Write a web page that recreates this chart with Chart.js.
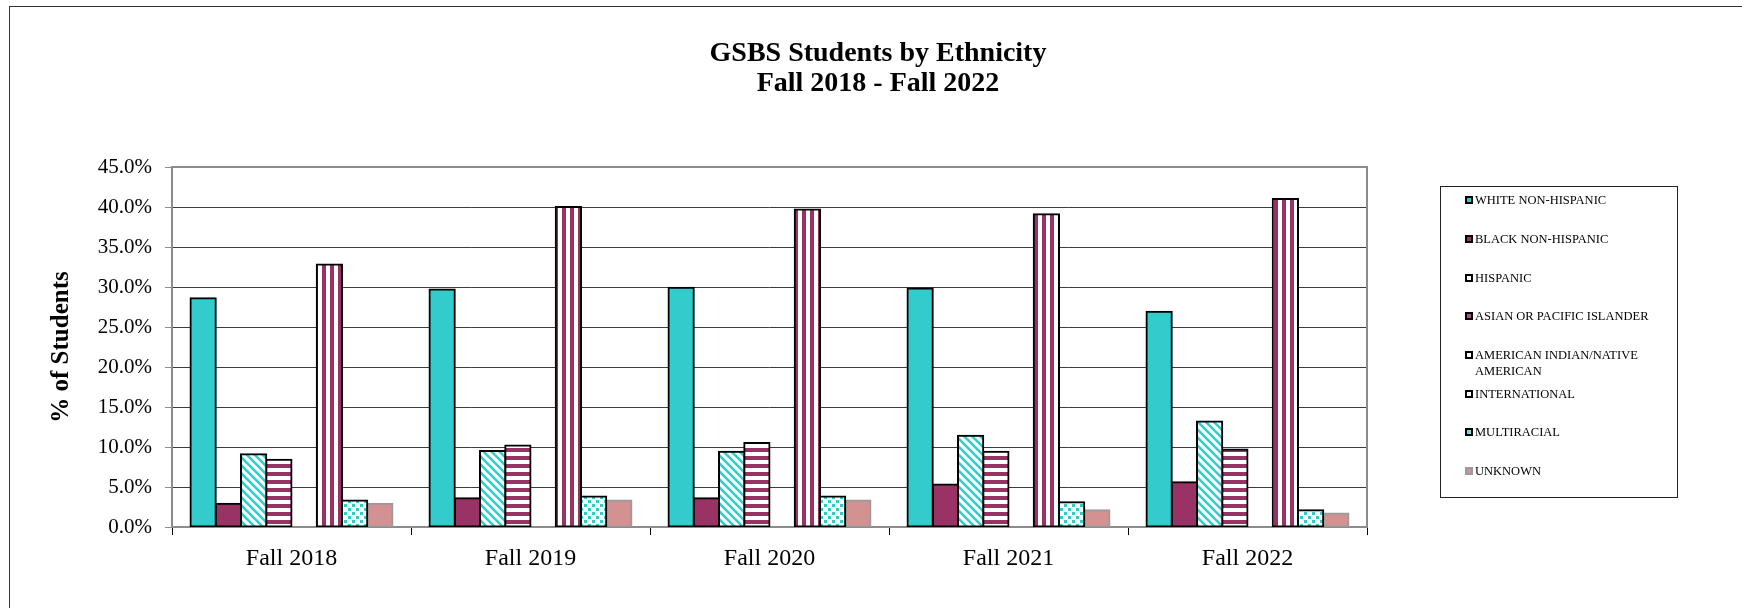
<!DOCTYPE html>
<html lang="en">
<head>
    <meta charset="UTF-8">
    <title>GSBS Students by Ethnicity</title>
    <style>
        body {
            margin: 0;
            background-color: #fff;
            font-family: "Liberation Serif", "Times New Roman", serif;
            color: #000;
        }
        #wrap {
            position: relative;
            width: 1742px;
            height: 608px;
            overflow: hidden;
        }
        #frame {
            position: absolute;
            left: 9px;
            top: 6px;
            width: 1800px;
            height: 700px;
            border-left: 1px solid #333;
            border-top: 1px solid #333;
        }
        canvas {
            position: absolute;
            left: 0;
            top: 0;
        }
        .title {
            position: absolute;
            left: 378px;
            top: 37px;
            width: 1000px;
            text-align: center;
            font-weight: bold;
            font-size: 28px;
            line-height: 30px;
        }
        #legend {
            position: absolute;
            left: 1440px;
            top: 186px;
            width: 236px;
            height: 310px;
            border: 1px solid #222;
        }
        .item {
            position: absolute;
            left: 24px;
            font-size: 12.5px;
            line-height: 16px;
        }
        .swatch {
            position: absolute;
            left: 0;
            top: 4px;
            width: 4px;
            height: 4px;
            border: 2px solid #000;
        }
        .label {
            margin-left: 10px;
            width: 185px;
        }
    </style>
    <script src="https://cdn.jsdelivr.net/npm/chart.js"></script>
</head>
<body>
<div id="wrap">
    <div id="frame"></div>
    <canvas id="chart" width="1742" height="608"></canvas>
    <div class="title">GSBS Students by Ethnicity<br>Fall 2018 - Fall 2022</div>
    <div id="legend"></div>
</div>

<script>
// data (% of students)
const categories = ['Fall 2018', 'Fall 2019', 'Fall 2020', 'Fall 2021', 'Fall 2022'];
const seriesNames = ['WHITE NON-HISPANIC', 'BLACK NON-HISPANIC', 'HISPANIC', 'ASIAN OR PACIFIC ISLANDER',
    'AMERICAN INDIAN/NATIVE AMERICAN', 'INTERNATIONAL', 'MULTIRACIAL', 'UNKNOWN'];
const whiteNonHispanic = [28.6, 29.7, 29.9, 29.8, 26.9];
const blackNonHispanic = [2.9, 3.6, 3.6, 5.3, 5.6];
const hispanic = [9.1, 9.5, 9.4, 11.4, 13.2];
const asianPacific = [8.4, 10.2, 10.5, 9.4, 9.7];
const americanIndian = [0, 0, 0, 0, 0];
const international = [32.8, 40.0, 39.7, 39.1, 41.0];
const multiracial = [3.3, 3.8, 3.8, 3.1, 2.1];
const unknown = [2.9, 3.3, 3.3, 2.1, 1.7];
const yTicks = [0, 5, 10, 15, 20, 25, 30, 35, 40, 45];

const TEAL = '#33CCCC';
const MAROON = '#993366';
const PINK = '#D39191';

// small tiles used as fill patterns
function makePattern(draw) {
    const c = document.createElement('canvas');
    c.width = 8;
    c.height = 8;
    const g = c.getContext('2d');
    g.fillStyle = '#fff';
    g.fillRect(0, 0, 8, 8);
    draw(g);
    return c.getContext('2d').createPattern(c, 'repeat');
}

const diagTeal = makePattern(g => {
    g.strokeStyle = TEAL;
    g.lineWidth = 2.6;
    for (let k = -8; k <= 8; k += 8) {
        g.beginPath();
        g.moveTo(k - 2, -2);
        g.lineTo(k + 10, 10);
        g.stroke();
    }
});
const horizMaroon = makePattern(g => {
    g.fillStyle = MAROON;
    g.fillRect(0, 0, 8, 4);
});
const vertMaroon = makePattern(g => {
    g.fillStyle = MAROON;
    g.fillRect(2, 0, 4, 8);
});
const dotsTeal = makePattern(g => {
    g.fillStyle = TEAL;
    g.fillRect(0, 0, 3, 3);
    g.fillRect(4, 4, 3, 3);
});

const seriesValues = [whiteNonHispanic, blackNonHispanic, hispanic, asianPacific,
    americanIndian, international, multiracial, unknown];
const fills = [TEAL, MAROON, diagTeal, horizMaroon, '#fff', vertMaroon, dotsTeal, PINK];
const borders = ['#000', '#000', '#000', '#000', '#000', '#000', '#000', '#9a9a9a'];
const swatchFills = [TEAL, MAROON, '#fff', '#b0527e', '#fff', '#fff', '#7adcdc', PINK];

const datasets = seriesNames.map((name, i) => ({
    label: name,
    data: seriesValues[i],
    backgroundColor: fills[i],
    borderColor: borders[i],
    borderWidth: 2,
    borderSkipped: false,
    inflateAmount: 1,
    barPercentage: 1.0,
    categoryPercentage: 0.845
}));

// gray frame round the plot area
const framePlugin = {
    id: 'plotFrame',
    beforeDatasetsDraw(chart) {
        const a = chart.chartArea;
        const ctx = chart.ctx;
        ctx.save();
        ctx.strokeStyle = '#8c8c8c';
        ctx.lineWidth = 2;
        ctx.strokeRect(a.left, a.top, a.right - a.left, a.bottom - a.top);
        ctx.restore();
    }
};

new Chart(document.getElementById('chart').getContext('2d'), {
    type: 'bar',
    data: { labels: categories, datasets: datasets },
    plugins: [framePlugin],
    options: {
        responsive: false,
        animation: false,
        devicePixelRatio: 1,
        layout: { padding: { top: 167, right: 375, bottom: 0, left: 0 } },
        plugins: {
            legend: { display: false },
            tooltip: { enabled: false },
            title: { display: false }
        },
        scales: {
            x: {
                afterFit: s => { s.height = 81; },
                border: { display: false },
                grid: {
                    offset: true,
                    drawOnChartArea: false,
                    drawTicks: true,
                    tickLength: 8,
                    tickColor: '#000'
                },
                ticks: {
                    color: '#000',
                    padding: 9,
                    font: { family: 'Liberation Serif', size: 24 }
                }
            },
            y: {
                min: 0,
                max: 45,
                afterFit: s => { s.width = 172; },
                afterBuildTicks: s => { s.ticks = yTicks.map(v => ({ value: v })); },
                border: { display: false },
                grid: {
                    color: ctx => (ctx.tick && (ctx.tick.value === 0 || ctx.tick.value === 45)) ? 'rgba(0,0,0,0)' : '#3c3c3c',
                    lineWidth: 1,
                    tickLength: 7,
                    tickColor: '#8c8c8c'
                },
                ticks: {
                    color: '#000',
                    padding: 13,
                    font: { family: 'Liberation Serif', size: 21 },
                    callback: v => v.toFixed(1) + '%'
                },
                title: {
                    display: true,
                    text: '% of Students',
                    color: '#000',
                    padding: { top: 47, bottom: 0 },
                    font: { family: 'Liberation Serif', size: 25, weight: 'bold', lineHeight: 1.2 }
                }
            }
        }
    }
});

// legend box, built from the series names
const legend = document.getElementById('legend');
seriesNames.forEach((name, i) => {
    const item = document.createElement('div');
    item.className = 'item';
    item.style.top = (5.3 + i * 38.67) + 'px';
    const sw = document.createElement('span');
    sw.className = 'swatch';
    sw.style.background = swatchFills[i];
    sw.style.borderColor = i === 7 ? '#9a9a9a' : '#000';
    const lb = document.createElement('div');
    lb.className = 'label';
    lb.textContent = name;
    item.appendChild(sw);
    item.appendChild(lb);
    legend.appendChild(item);
});
</script>
</body>
</html>
